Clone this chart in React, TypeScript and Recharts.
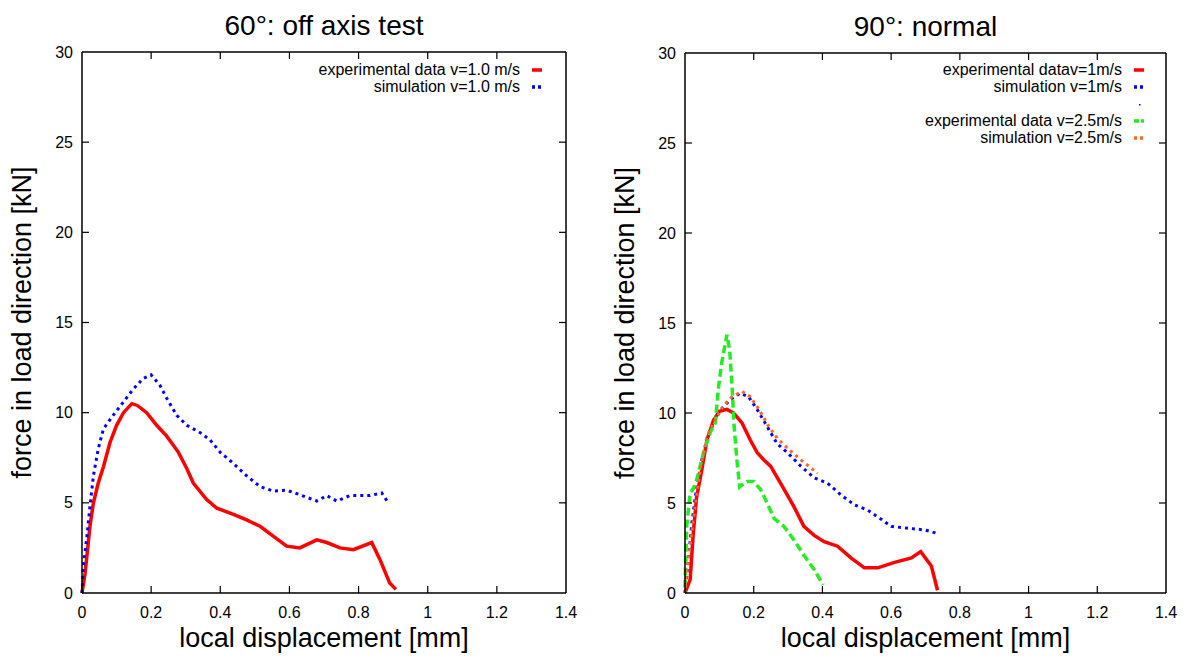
import React from "react";
import { LineChart, Line, XAxis, YAxis, Legend, Label } from "recharts";

// [displacement mm, force kN]
const exp60: [number, number][] = [
  [0, 0], [0.009, 1.1], [0.023, 3.7], [0.033, 5.0], [0.047, 6.1], [0.062, 7.0],
  [0.081, 8.35], [0.1, 9.3], [0.12, 10.0], [0.144, 10.5], [0.16, 10.4], [0.187, 10.0],
  [0.216, 9.3], [0.245, 8.7], [0.279, 7.8], [0.303, 6.9], [0.322, 6.1], [0.36, 5.2],
  [0.39, 4.7], [0.44, 4.35], [0.476, 4.05], [0.515, 3.7], [0.553, 3.15], [0.592, 2.6],
  [0.63, 2.5], [0.679, 2.95], [0.708, 2.8], [0.746, 2.5], [0.785, 2.4], [0.838, 2.8],
  [0.862, 1.85], [0.89, 0.55], [0.908, 0.2],
];
const sim60: [number, number][] = [
  [0, 0], [0.004, 1.5], [0.014, 3.1], [0.023, 4.8], [0.033, 6.5], [0.047, 8.0],
  [0.062, 9.1], [0.09, 9.85], [0.12, 10.6], [0.148, 11.3], [0.177, 11.9], [0.2, 12.1],
  [0.226, 11.5], [0.245, 10.8], [0.274, 9.85], [0.303, 9.3], [0.341, 8.9], [0.37, 8.5],
  [0.4, 7.8], [0.437, 7.2], [0.476, 6.5], [0.515, 5.9], [0.553, 5.65], [0.592, 5.7],
  [0.63, 5.45], [0.679, 5.1], [0.708, 5.4], [0.737, 5.1], [0.775, 5.4], [0.833, 5.4],
  [0.867, 5.55], [0.886, 5.0],
];
const exp90v1: [number, number][] = [
  [0, 0], [0.015, 0.75], [0.024, 3.3], [0.034, 5.35], [0.049, 6.85], [0.064, 8.5],
  [0.083, 9.6], [0.1, 10.1], [0.122, 10.2], [0.141, 10.0], [0.166, 9.45], [0.19, 8.5],
  [0.21, 7.8], [0.229, 7.4], [0.249, 7.05], [0.278, 6.1], [0.317, 4.8], [0.346, 3.7],
  [0.376, 3.2], [0.405, 2.85], [0.444, 2.6], [0.483, 1.95], [0.522, 1.4], [0.561, 1.4],
  [0.61, 1.7], [0.659, 1.95], [0.686, 2.3], [0.717, 1.5], [0.735, 0.15],
];
const sim90v1: [number, number][] = [
  [0, 0], [0.01, 1.85], [0.02, 3.9], [0.034, 5.9], [0.049, 7.4], [0.064, 8.5],
  [0.083, 9.45], [0.1, 10.1], [0.132, 10.75], [0.161, 11.1], [0.185, 10.9], [0.21, 10.2],
  [0.239, 9.25], [0.268, 8.3], [0.298, 7.8], [0.337, 7.05], [0.376, 6.4], [0.415, 6.1],
  [0.454, 5.45], [0.493, 4.9], [0.532, 4.6], [0.571, 4.1], [0.6, 3.7], [0.649, 3.6],
  [0.698, 3.5], [0.737, 3.3],
];
const exp90v25: [number, number][] = [
  [0, 0.3], [0.005, 3.7], [0.015, 5.55], [0.024, 5.8], [0.034, 6.3], [0.054, 7.8],
  [0.073, 8.9], [0.088, 9.45], [0.098, 11.5], [0.107, 12.8], [0.122, 14.35], [0.13, 13.5],
  [0.137, 11.5], [0.143, 9.25], [0.151, 7.4], [0.159, 5.9], [0.181, 6.2], [0.2, 6.2],
  [0.22, 5.75], [0.239, 5.0], [0.259, 4.15], [0.288, 3.7], [0.317, 2.95], [0.346, 2.1],
  [0.376, 1.3], [0.402, 0.45],
];
const sim90v25: [number, number][] = [
  [0, 0], [0.005, 1.1], [0.024, 4.05], [0.044, 6.85], [0.064, 8.7], [0.083, 9.45],
  [0.112, 10.4], [0.137, 10.9], [0.166, 11.2], [0.19, 10.9], [0.215, 10.2], [0.244, 9.25],
  [0.268, 8.6], [0.298, 8.05], [0.337, 7.4], [0.386, 6.65],
];

const xTicks = [0, 0.2, 0.4, 0.6, 0.8, 1, 1.2, 1.4];
const yTicks = [0, 5, 10, 15, 20, 25, 30];

const legend60 = [
  { label: "experimental data v=1.0 m/s", color: "#ff0000", dash: "" },
  { label: "simulation v=1.0 m/s", color: "#0000ff", dash: "3 3" },
];
const legend90 = [
  { label: "experimental datav=1m/s", color: "#ff0000", dash: "" },
  { label: "simulation v=1m/s", color: "#0000ff", dash: "3 3" },
  { label: "", color: "#0000ff", dash: "dot" },
  { label: "experimental data v=2.5m/s", color: "#22ee22", dash: "5 2" },
  { label: "simulation v=2.5m/s", color: "#ff6622", dash: "3 3" },
];

const FONT = "'Liberation Sans', Arial, Helvetica, sans-serif";
const toPts = (d: [number, number][]) => d.map(([x, y]) => ({ x, y }));

const BottomTick = (p: any) => {
  const v = p.payload.value;
  return (
    <g>
      {v > 0 && v < 1.4 && <line x1={p.x} y1={p.y} x2={p.x} y2={p.y - 7} stroke="#000" strokeWidth={1.2} />}
      <text x={p.x} y={p.y + 19} textAnchor="middle" dominantBaseline="central" fontSize={16} fill="#000" fontFamily={FONT}>
        {String(v)}
      </text>
    </g>
  );
};
const TopTick = (p: any) => {
  const v = p.payload.value;
  if (v <= 0 || v >= 1.4) return <g />;
  return <line x1={p.x} y1={p.y} x2={p.x} y2={p.y + 7} stroke="#000" strokeWidth={1.2} />;
};
const LeftTick = (p: any) => {
  const v = p.payload.value;
  return (
    <g>
      {v > 0 && v < 30 && <line x1={p.x} y1={p.y} x2={p.x + 7} y2={p.y} stroke="#000" strokeWidth={1.2} />}
      <text x={p.x - 9} y={p.y} textAnchor="end" dominantBaseline="central" fontSize={16} fill="#000" fontFamily={FONT}>
        {String(v)}
      </text>
    </g>
  );
};
const RightTick = (p: any) => {
  const v = p.payload.value;
  if (v <= 0 || v >= 30) return <g />;
  return <line x1={p.x} y1={p.y} x2={p.x - 7} y2={p.y} stroke="#000" strokeWidth={1.2} />;
};

function LegendBox({ items }: { items: typeof legend60 }) {
  return (
    <div style={{ fontFamily: FONT, fontSize: 16, color: "#000", lineHeight: "17px" }}>
      {items.map((it, i) => (
        <div key={i} style={{ display: "flex", justifyContent: "flex-end", alignItems: "center", height: 17 }}>
          <span style={{ whiteSpace: "nowrap" }}>{it.label}</span>
          <svg width={24} height={10} style={{ marginLeft: 8 }}>
            {it.dash === "dot" ? (
              <rect x={9} y={5} width={1.5} height={1.5} fill={it.color} />
            ) : (
              <line x1={4} y1={5} x2={14} y2={5} stroke={it.color} strokeWidth={3.5} strokeDasharray={it.dash || undefined} />
            )}
          </svg>
        </div>
      ))}
    </div>
  );
}

interface Series {
  data: [number, number][];
  color: string;
  dash?: string;
  width: number;
}

function Panel({
  title, series, legend, width, left, margin, legendRight,
}: {
  title: string;
  series: Series[];
  legend: typeof legend60;
  width: number;
  left: number;
  margin: { top: number; right: number; bottom: number; left: number };
  legendRight: number;
}) {
  return (
    <div style={{ position: "absolute", left, top: 0 }}>
      <LineChart width={width} height={657} margin={margin}>
        <XAxis
          xAxisId="bottom" dataKey="x" type="number" domain={[0, 1.4]} ticks={xTicks} interval={0}
          height={30} tickSize={0} tickMargin={0} tickLine={false} tick={BottomTick}
          axisLine={{ stroke: "#000", strokeWidth: 1.5 }}
        >
          <Label
            content={(p: any) => (
              <text x={p.viewBox.x + p.viewBox.width / 2} y={p.viewBox.y + 45} textAnchor="middle"
                dominantBaseline="central" fontSize={27} fontFamily={FONT} fill="#000">
                local displacement [mm]
              </text>
            )}
          />
        </XAxis>
        <XAxis
          xAxisId="top" dataKey="x" orientation="top" type="number" domain={[0, 1.4]} ticks={xTicks} interval={0}
          height={1} tickSize={0} tickMargin={0} tickLine={false} tick={TopTick}
          axisLine={{ stroke: "#000", strokeWidth: 1.5 }}
        >
          <Label
            content={(p: any) => (
              <text x={p.viewBox.x + p.viewBox.width / 2} y={p.viewBox.y - 26} textAnchor="middle"
                dominantBaseline="central" fontSize={28} fontFamily={FONT} fill="#000">
                {title}
              </text>
            )}
          />
        </XAxis>
        <YAxis
          yAxisId="left" type="number" domain={[0, 30]} ticks={yTicks} interval={0}
          width={40} tickSize={0} tickMargin={0} tickLine={false} tick={LeftTick}
          axisLine={{ stroke: "#000", strokeWidth: 1.5 }}
        >
          <Label
            content={(p: any) => {
              const cx = p.viewBox.x + p.viewBox.width - 60;
              const cy = p.viewBox.y + p.viewBox.height / 2;
              return (
                <text x={cx} y={cy} transform={`rotate(-90 ${cx} ${cy})`} textAnchor="middle"
                  dominantBaseline="central" fontSize={27} fontFamily={FONT} fill="#000">
                  force in load direction [kN]
                </text>
              );
            }}
          />
        </YAxis>
        <YAxis
          yAxisId="right" orientation="right" type="number" domain={[0, 30]} ticks={yTicks} interval={0}
          width={1} tickSize={0} tickMargin={0} tickLine={false} tick={RightTick}
          axisLine={{ stroke: "#000", strokeWidth: 1.5 }}
        />
        {/* invisible carrier so the mirrored top/right axes get drawn */}
        <Line
          xAxisId="top"
          yAxisId="right"
          data={toPts(series[0].data)}
          dataKey="y"
          stroke="none"
          dot={false}
          activeDot={false}
          legendType="none"
          isAnimationActive={false}
        />
        {series.map((s, i) => (
          <Line
            key={i}
            xAxisId="bottom"
            yAxisId="left"
            data={toPts(s.data)}
            dataKey="y"
            type="linear"
            stroke={s.color}
            strokeWidth={s.width}
            strokeDasharray={s.dash}
            dot={false}
            activeDot={false}
            isAnimationActive={false}
          />
        ))}
        <Legend
          layout="vertical"
          align="center"
          verticalAlign="middle"
          wrapperStyle={{ top: 61, left: "auto", right: legendRight, width: 320 }}
          content={() => <LegendBox items={legend} />}
        />
      </LineChart>
    </div>
  );
}

export default function App() {
  return (
    <div style={{ position: "absolute", left: 0, top: 0, width: 1185, height: 657, background: "#fff" }}>
      <Panel
        title="60°: off axis test"
        left={0}
        width={600}
        margin={{ top: 51, right: 33, bottom: 34, left: 42 }}
        legendRight={48}
        legend={legend60}
        series={[
          { data: exp60, color: "#ff0000", width: 3.5 },
          { data: sim60, color: "#0000ff", dash: "3 4", width: 3 },
        ]}
      />
      <Panel
        title="90°: normal"
        left={600}
        width={585}
        margin={{ top: 52, right: 18, bottom: 34, left: 45 }}
        legendRight={31}
        legend={legend90}
        series={[
          { data: exp90v1, color: "#ff0000", width: 3.5 },
          { data: sim90v1, color: "#0000ff", dash: "3 4", width: 3 },
          { data: exp90v25, color: "#22ee22", dash: "8 4", width: 3.5 },
          { data: sim90v25, color: "#ff6622", dash: "3 4", width: 3 },
        ]}
      />
    </div>
  );
}
